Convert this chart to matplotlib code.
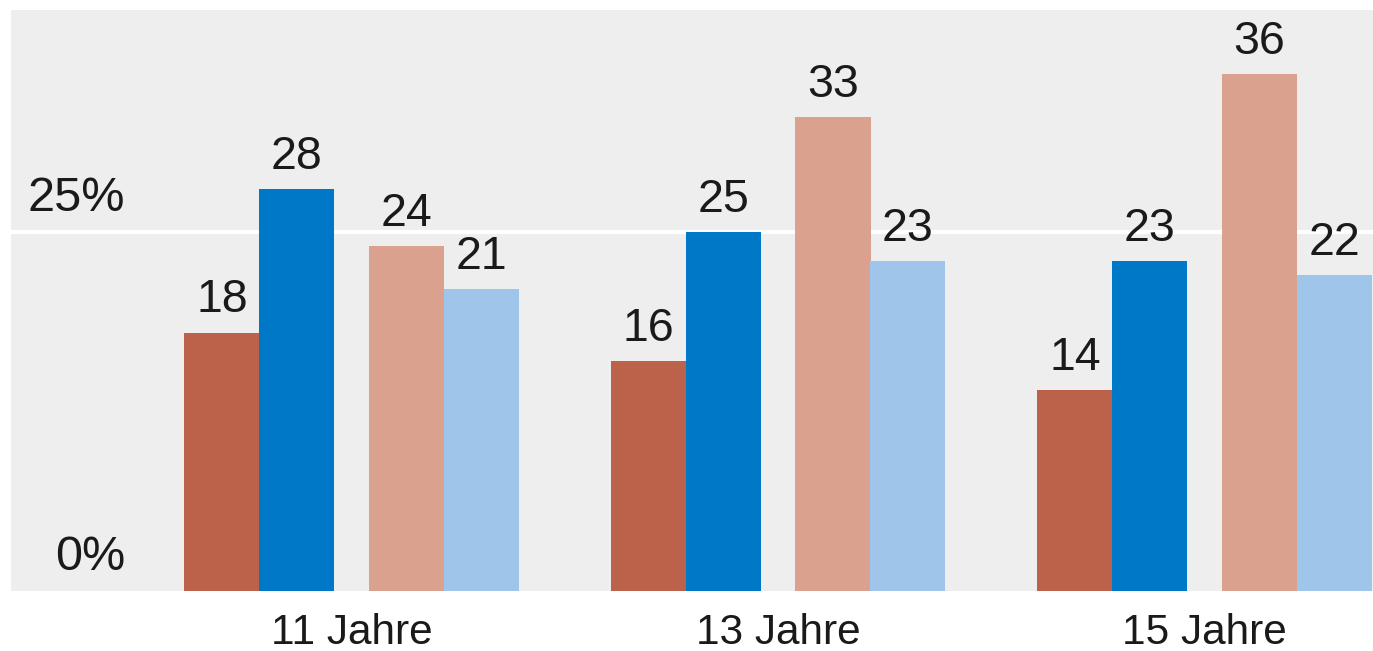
import numpy as np
import matplotlib
matplotlib.use('Agg')
import matplotlib.pyplot as plt

plt.rcParams['font.family'] = ['Liberation Sans', 'DejaVu Sans']

groups = ['11 Jahre', '13 Jahre', '15 Jahre']
series_a = [18, 16, 14]   # dark red
series_b = [28, 25, 23]   # blue
series_c = [24, 33, 36]   # light red
series_d = [21, 23, 22]   # light blue
ytick_vals = [0, 25]
ytick_labels = ['0%', '25%']

colors = ['#BC624B', '#0078C8', '#DAA28E', '#A0C5EA']
offsets = [-0.304, -0.128, 0.129, 0.304]
width = 0.176

fig = plt.figure(figsize=(13.73, 6.51), dpi=100)
ax = fig.add_axes([11 / 1373, 1 - 591 / 651, 1 - 11 / 1373, 581 / 651])
ax.set_facecolor('#EEEEEE')

x = np.arange(len(groups))
for vals, col, off in zip([series_a, series_b, series_c, series_d], colors, offsets):
    bars = ax.bar(x + off, vals, width=width, color=col, zorder=3)
    for b, v in zip(bars, vals):
        ax.annotate(str(v), xy=(b.get_x() + b.get_width() / 2, v),
                    xytext=(0, 14.5), textcoords='offset points',
                    ha='center', va='baseline', fontsize=33.5, color='#1a1a1a')

# horizontal reference line + y labels
for v, lab in zip(ytick_vals, ytick_labels):
    if v > 0:
        ax.axhline(v, color='white', linewidth=3, zorder=1)
    ax.annotate(lab, xy=((125 - 351.5) / 426.5, v), xytext=(0, 15),
                textcoords='offset points', ha='right', va='baseline',
                fontsize=35, color='#1a1a1a')

ax.set_xlim((11 - 351.5) / 426.5, (1373 - 351.5) / 426.5)
ax.set_ylim(0, 40.46)
ax.set_yticks([])
ax.set_xticks(x, groups, fontsize=30.5, color='#1a1a1a')
ax.tick_params(axis='x', length=0, pad=16)
for s in ax.spines.values():
    s.set_visible(False)

fig.savefig('out.png', dpi=100)
